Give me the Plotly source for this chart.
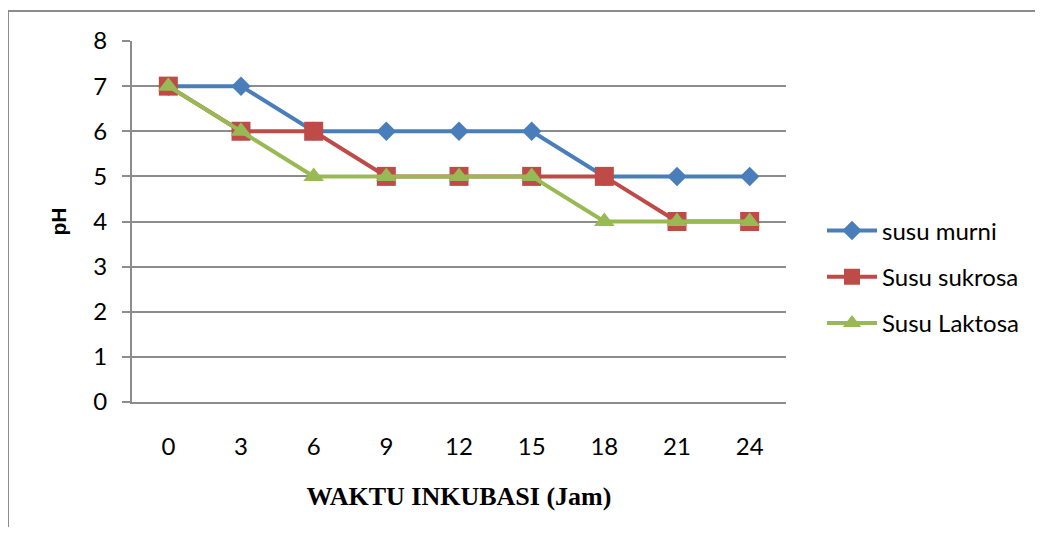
import plotly.graph_objects as go

categories = ["0", "3", "6", "9", "12", "15", "18", "21", "24"]
susu_murni = [7, 7, 6, 6, 6, 6, 5, 5, 5]
susu_sukrosa = [7, 6, 6, 5, 5, 5, 5, 4, 4]
susu_laktosa = [7, 6, 5, 5, 5, 5, 4, 4, 4]
y_ticks = [0, 1, 2, 3, 4, 5, 6, 7, 8]

# page body has an 8px default margin; compensate
OFF = 8
W, H = 1043 - 2 * OFF, 535 - 2 * OFF
L, R, T, B = 132 - OFF, 786 - OFF, 41 - OFF, 402 - OFF

fig = go.Figure()
series = [
    ("susu murni", susu_murni, "#4A7EBB", "diamond", 15),
    ("Susu sukrosa", susu_sukrosa, "#BE4B48", "square", 19),
    ("Susu Laktosa", susu_laktosa, "#98B954", "triangle-up", 18),
]
for name, vals, col, sym, sz in series:
    fig.add_trace(go.Scatter(
        x=categories, y=vals, name=name, legendgroup=name,
        mode="lines+markers",
        line=dict(color=col, width=4),
        marker=dict(symbol=sym, size=sz, color=col, line=dict(width=0)),
    ))

pw = R - L
ph = B - T
def px2x(p):
    return (p - OFF - L) / pw
def py2y(p):
    return (B - (p - OFF)) / ph

fig.add_shape(type="line", xref="paper", yref="paper",
              x0=px2x(8), x1=px2x(8), y0=py2y(11), y1=py2y(545),
              line=dict(color="#8C8C8C", width=2))
fig.add_shape(type="line", xref="paper", yref="paper",
              x0=px2x(7), x1=px2x(1050), y0=py2y(11), y1=py2y(11),
              line=dict(color="#8C8C8C", width=2))

fig.update_layout(
    width=W, height=H,
    margin=dict(l=L, r=W - R, t=T, b=H - B, autoexpand=False),
    paper_bgcolor="white", plot_bgcolor="white",
    font=dict(family="Lato, Open Sans, sans-serif", size=24, color="black"),
    showlegend=True,
    legend=dict(x=px2x(822), xanchor="left", y=py2y(277), yanchor="middle",
                font=dict(size=24), tracegroupgap=12, traceorder="grouped",
                itemwidth=50, bgcolor="rgba(0,0,0,0)"),
    xaxis=dict(
        type="category", range=[-0.5, 8.5],
        showgrid=False, showline=True, linecolor="#8C8C8C", linewidth=2,
        ticks="", ticklabelstandoff=22, zeroline=False,
        title=dict(text="<b>WAKTU INKUBASI (Jam)</b>",
                   font=dict(family="Liberation Serif, Times New Roman, serif", size=26),
                   standoff=28),
    ),
    yaxis=dict(
        range=[0, 8], tickvals=y_ticks,
        showgrid=True, gridcolor="#8C8C8C", gridwidth=1.5,
        showline=True, linecolor="#8C8C8C", linewidth=2,
        ticks="outside", ticklen=8, tickcolor="#8C8C8C", tickwidth=1.5,
        ticklabelstandoff=10, zeroline=False,
        title=dict(text="<b>pH</b>",
                   font=dict(family="Liberation Sans, Arial, sans-serif", size=21),
                   standoff=21),
    ),
)

fig.write_html("out.html")
